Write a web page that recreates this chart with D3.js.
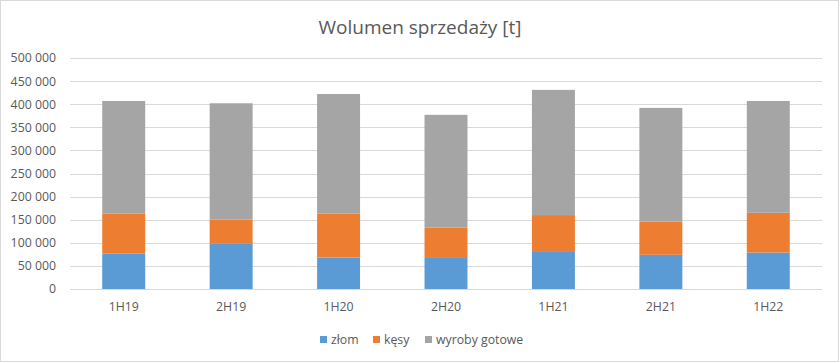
<!DOCTYPE html>
<html>
<head>
<meta charset="utf-8">
<script src="https://cdn.jsdelivr.net/npm/d3@7"></script>
<style>
  html, body { margin: 0; padding: 0; background: #fff; }
  svg { display: block; font-family: "Open Sans", sans-serif; }
</style>
</head>
<body>
<svg id="chart" width="840" height="363"></svg>
<script>
const categories = ["1H19", "2H19", "1H20", "2H20", "1H21", "2H21", "1H22"];
const seriesNames = ["złom", "kęsy", "wyroby gotowe"];
const zlom = [77000, 99000, 68000, 69000, 82000, 74000, 79000];
const kesy = [86000, 51000, 95000, 64000, 78000, 72000, 86000];
const wyroby = [244000, 252000, 259000, 244000, 271000, 246000, 242000];
const yTicks = [0, 50000, 100000, 150000, 200000, 250000, 300000, 350000, 400000, 450000, 500000];
const colors = ["#5B9BD5", "#ED7D31", "#A5A5A5"];
const title = "Wolumen sprzedaży [t]";

const svg = d3.select("#chart");
const plot = { left: 70, right: 822, top: 58, bottom: 289 };

svg.append("rect").attr("x", 0.5).attr("y", 0.5).attr("width", 838).attr("height", 361)
  .attr("fill", "#fff").attr("stroke", "#D9D9D9").attr("stroke-width", 1);

svg.append("text").attr("x", 420).attr("y", 34).attr("text-anchor", "middle")
  .attr("font-size", 19).attr("fill", "#595959").text(title);

const x = d3.scaleBand().domain(categories).range([plot.left, plot.right])
  .paddingInner(0.6).paddingOuter(0.3);
const y = d3.scaleLinear().domain([0, 500000]).range([plot.bottom, plot.top]);

const fmt = v => d3.format(",")(v).replace(/,/g, " ");

// gridlines
svg.append("g").selectAll("line").data(yTicks).join("line")
  .attr("x1", plot.left).attr("x2", plot.right)
  .attr("y1", d => Math.round(y(d)) + 0.5).attr("y2", d => Math.round(y(d)) + 0.5)
  .attr("stroke", "#D9D9D9").attr("stroke-width", 1);

// y axis
const yAxis = d3.axisLeft(y).tickValues(yTicks).tickFormat(fmt).tickSize(0).tickPadding(0);
const yg = svg.append("g").attr("transform", `translate(${plot.left - 14},0)`).call(yAxis);
yg.select(".domain").remove();
yg.selectAll("text").attr("font-size", 12.3).attr("fill", "#595959").attr("font-family", "Open Sans, sans-serif");

// stacked data
const table = categories.map((c, i) => ({ cat: c, "złom": zlom[i], "kęsy": kesy[i], "wyroby gotowe": wyroby[i] }));
const stack = d3.stack().keys(seriesNames)(table);

svg.append("g").selectAll("g").data(stack).join("g")
  .attr("fill", (d, i) => colors[i])
  .selectAll("rect").data(d => d).join("rect")
  .attr("x", d => x(d.data.cat))
  .attr("width", x.bandwidth())
  .attr("y", d => y(d[1]))
  .attr("height", d => y(d[0]) - y(d[1]));

// baseline
svg.append("line").attr("x1", plot.left).attr("x2", plot.right)
  .attr("y1", Math.round(y(0)) + 0.5).attr("y2", Math.round(y(0)) + 0.5)
  .attr("stroke", "#D9D9D9");

// x axis
const xAxis = d3.axisBottom(x).tickSize(0).tickPadding(0);
const xg = svg.append("g").attr("transform", `translate(0,${plot.bottom + 13})`).call(xAxis);
xg.select(".domain").remove();
xg.selectAll("text").attr("font-size", 12.3).attr("fill", "#595959").attr("font-family", "Open Sans, sans-serif");

// legend
const legendItems = [
  { name: seriesNames[0], color: colors[0], x: 320 },
  { name: seriesNames[1], color: colors[1], x: 373 },
  { name: seriesNames[2], color: colors[2], x: 425 }
];
const lg = svg.append("g");
legendItems.forEach(it => {
  lg.append("rect").attr("x", it.x).attr("y", 336).attr("width", 7).attr("height", 7).attr("fill", it.color);
  lg.append("text").attr("x", it.x + 11).attr("y", 344).attr("font-size", 12.3).attr("fill", "#595959").text(it.name);
});
</script>
</body>
</html>
